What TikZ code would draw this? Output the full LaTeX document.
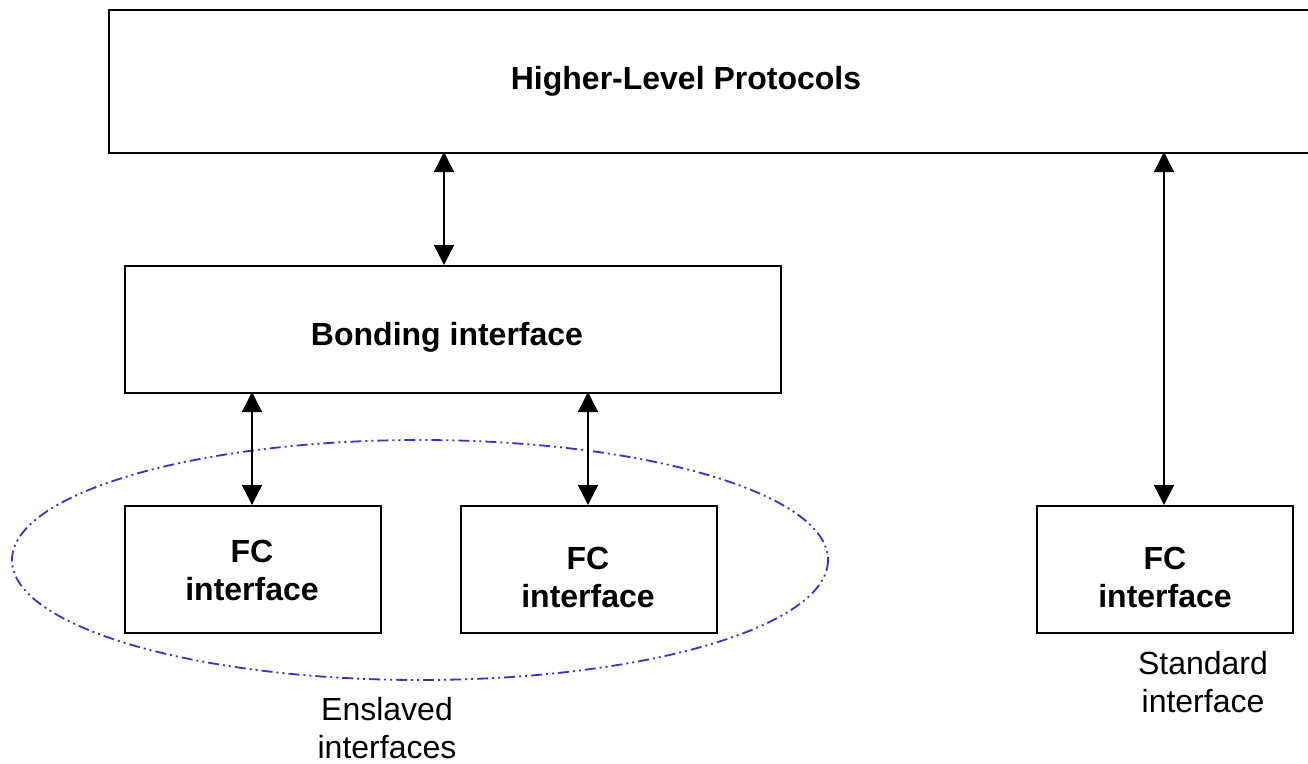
\documentclass[tikz,border=0pt]{standalone}
\usepackage{fontspec}
\setmainfont{Liberation Sans}
\usetikzlibrary{arrows.meta}
\definecolor{ringblue}{RGB}{51,51,204}
\begin{document}
\begin{tikzpicture}[x=1pt,y=-1pt,
  boxstyle/.style={draw=black,line width=1.5pt,fill=white,inner sep=0pt},
  btext/.style={font=\fontsize{32}{38}\selectfont\bfseries,align=center,inner sep=0pt},
  ntext/.style={font=\fontsize{32}{38}\selectfont,align=center,inner sep=0pt},
  link/.style={line width=1.4pt,{Triangle[width=20pt,length=20pt]}-{Triangle[width=20pt,length=20pt]}},
  ring/.style={draw=ringblue,line width=1.8pt,dash pattern=on 11pt off 4pt on 2pt off 4pt on 2pt off 4pt}
]
\useasboundingbox (0,0) rectangle (1308,763);
\fill[white] (0,0) rectangle (1308,763);
% ellipse (behind boxes)
\draw[ring] (420,560) ellipse [x radius=408, y radius=120];
% boxes
\node[boxstyle,minimum width=1240pt,minimum height=143pt,anchor=north west] (hlp) at (108,9) {};
\node[boxstyle,minimum width=656pt,minimum height=127pt,anchor=north west] (bond) at (124,265) {};
\node[boxstyle,minimum width=256pt,minimum height=127pt,anchor=north west] (fc1) at (124,505) {};
\node[boxstyle,minimum width=256pt,minimum height=127pt,anchor=north west] (fc2) at (460,505) {};
\node[boxstyle,minimum width=256pt,minimum height=127pt,anchor=north west] (fc3) at (1036,505) {};
% texts
\node[btext] (hlpt) at (686,81) {Higher-Level Protocols};
\node[btext] (bondt) at (447,337) {Bonding interface};
\node[btext] (fc1t) at (252,570) {FC\\interface};
\node[btext] (fc2t) at (588,577) {FC\\interface};
\node[btext] (fc3t) at (1165,577) {FC\\interface};
\node[ntext] (ens) at (387,728) {Enslaved\\interfaces};
\node[ntext] (std) at (1203,682) {Standard\\interface};
% connectors
\coordinate (a1) at (444,152);
\draw[link] (a1) -- (a1 |- bond.north);
\coordinate (a2) at (252,392);
\draw[link] (a2) -- (a2 |- fc1.north);
\coordinate (a3) at (588,392);
\draw[link] (a3) -- (a3 |- fc2.north);
\coordinate (a4) at (1164,152);
\draw[link] (a4) -- (a4 |- fc3.north);
\end{tikzpicture}
\end{document}
